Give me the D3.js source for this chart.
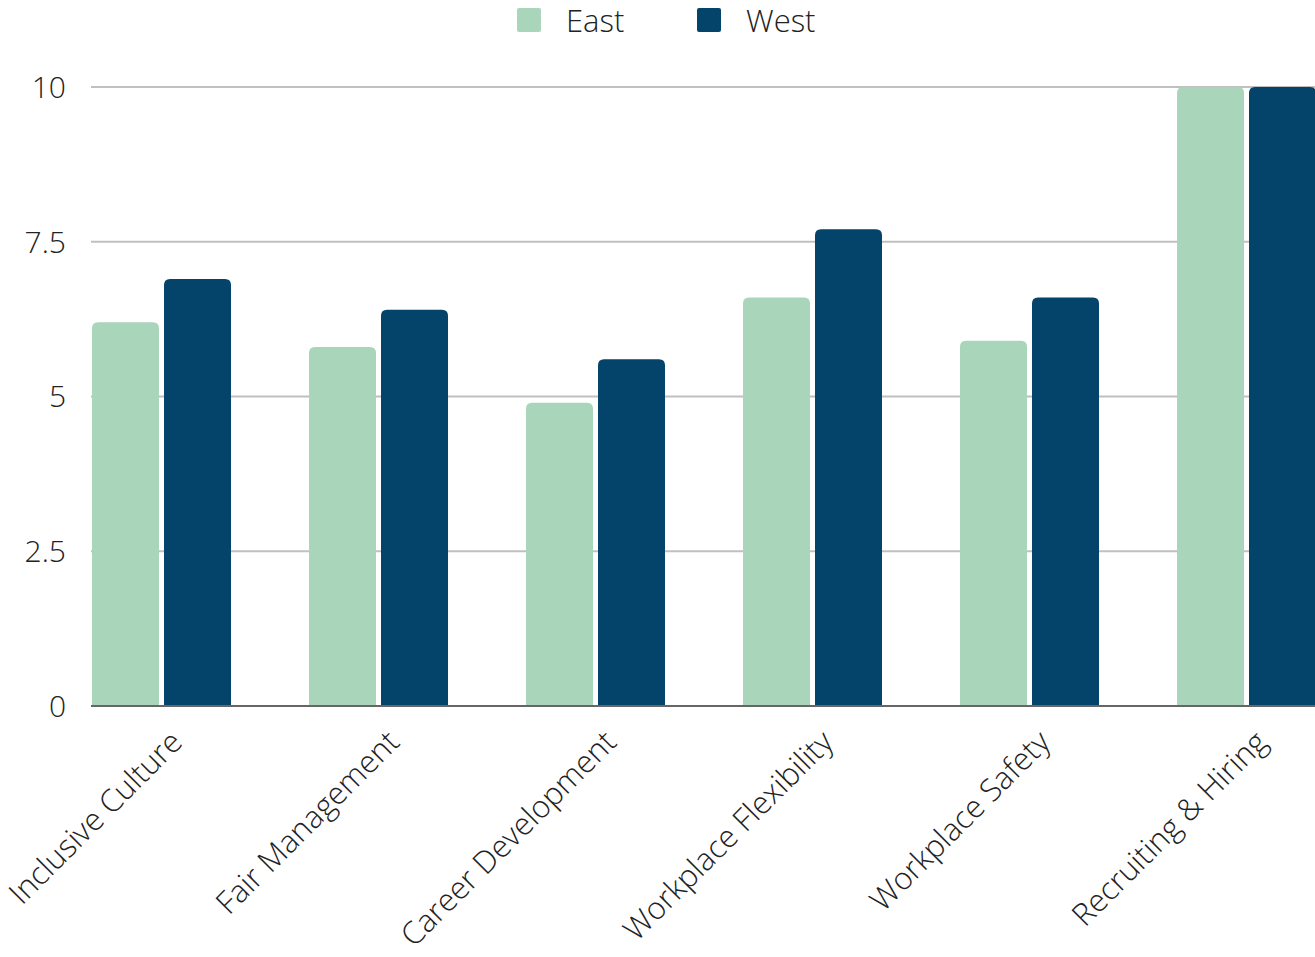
<!DOCTYPE html>
<html>
<head>
<meta charset="utf-8">
<script src="https://cdn.jsdelivr.net/npm/d3@7"></script>
<style>
  html, body { margin: 0; padding: 0; background: #fff; overflow: hidden; }
  svg { display: block; font-family: "Open Sans", sans-serif; font-weight: 300; }
</style>
</head>
<body>
<svg id="chart" width="1315" height="957"></svg>
<script>
// Survey scores by category for each region
const categories = ["Inclusive Culture", "Fair Management", "Career Development",
                    "Workplace Flexibility", "Workplace Safety", "Recruiting & Hiring"];
const seriesNames = ["East", "West"];
const eastValues = [6.2, 5.8, 4.9, 6.6, 5.9, 10];
const westValues = [6.9, 6.4, 5.6, 7.7, 6.6, 10];
const yTicks = [0, 2.5, 5, 7.5, 10];
const yTickLabels = ["0", "2.5", "5", "7.5", "10"];

const colors = { East: "#a9d6ba", West: "#04436a" };

const svg = d3.select("#chart");

const left = 91, baseY = 706, topY = 87, step = 217;

const x0 = d3.scaleBand().domain(categories)
  .range([left, left + step * categories.length]).paddingInner(0).paddingOuter(0);
const x1 = d3.scaleBand().domain(seriesNames).range([1, 140]).paddingInner(5 / 72);
const y = d3.scaleLinear().domain([0, 10]).range([baseY, topY]);

// gridlines
svg.append("g").selectAll("line").data(yTicks.filter(d => d !== 0)).join("line")
  .attr("x1", left).attr("x2", 1315)
  .attr("y1", d => y(d)).attr("y2", d => y(d))
  .attr("stroke", "#c0c0c0").attr("stroke-width", 2);

// y tick labels
svg.append("g").selectAll("text").data(yTicks).join("text")
  .attr("x", 66).attr("y", d => y(d)).attr("dy", "0.36em")
  .attr("text-anchor", "end").attr("font-size", 30).attr("fill", "#222")
  .text((d, i) => yTickLabels[i]);

// bars with rounded top corners
const rows = categories.map((c, i) => ({ cat: c, values: [
  { key: "East", value: eastValues[i] }, { key: "West", value: westValues[i] }] }));

function topRounded(x, yTop, w, h, r) {
  r = Math.min(r, w / 2, h);
  return `M${x},${yTop + h}V${yTop + r}Q${x},${yTop} ${x + r},${yTop}` +
         `H${x + w - r}Q${x + w},${yTop} ${x + w},${yTop + r}V${yTop + h}Z`;
}

svg.append("g").selectAll("g").data(rows).join("g")
  .attr("transform", d => `translate(${x0(d.cat)},0)`)
  .selectAll("path").data(d => d.values).join("path")
  .attr("fill", d => colors[d.key])
  .attr("d", d => topRounded(x1(d.key), y(d.value), x1.bandwidth(), baseY - y(d.value), 6));

// baseline
svg.append("line").attr("x1", left).attr("x2", 1315)
  .attr("y1", baseY).attr("y2", baseY)
  .attr("stroke", "#666").attr("stroke-width", 2);

// category labels, rotated
svg.append("g").selectAll("text").data(categories).join("text")
  .attr("transform", d => `translate(${x0(d) + 93},${baseY + 38}) rotate(-45)`)
  .attr("text-anchor", "end").attr("font-size", 31).attr("fill", "#222")
  .text(d => d);

// legend
const legend = svg.append("g");
const legendX = [517, 697];
seriesNames.forEach((s, i) => {
  legend.append("rect").attr("x", legendX[i]).attr("y", 8).attr("width", 24).attr("height", 24)
    .attr("rx", 2).attr("fill", colors[s]);
  legend.append("text").attr("x", legendX[i] + 49).attr("y", 21).attr("dy", "0.36em")
    .attr("font-size", 31).attr("fill", "#222").text(s);
});
</script>
</body>
</html>
